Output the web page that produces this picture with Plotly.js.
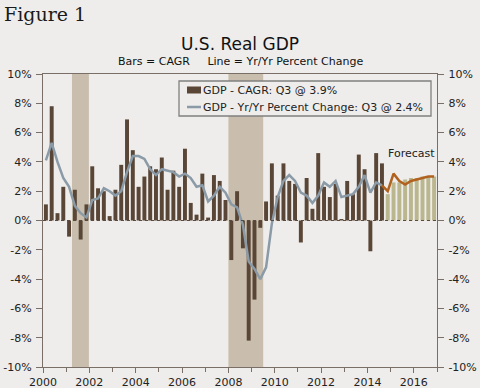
<!DOCTYPE html>
<html><head><meta charset="utf-8">
<script src="https://cdn.plot.ly/plotly-3.0.1.min.js"></script>
<style>html,body{margin:0;padding:0;background:#eeedeb;} #chart{width:480px;height:388px;}</style>
</head><body><div id="chart"></div>
<script>
const startYear = 2000;
// Quarterly real GDP, CAGR (SAAR), 2000Q1 - 2014Q3
const cagrActual = [
  1.1, 7.8, 0.5, 2.3,
  -1.1, 2.1, -1.3, 1.1,
  3.7, 2.2, 2.0, 0.3,
  2.1, 3.8, 6.9, 4.8,
  2.3, 3.0, 3.7, 3.5,
  4.3, 2.1, 3.4, 2.3,
  4.9, 1.2, 0.4, 3.2,
  0.2, 3.1, 2.7, 1.4,
  -2.7, 2.0, -1.9, -8.2,
  -5.4, -0.5, 1.3, 3.9,
  1.7, 3.9, 2.7, 2.5,
  -1.5, 2.9, 0.8, 4.6,
  2.3, 1.6, 2.5, 0.1,
  2.7, 1.8, 4.5, 3.5,
  -2.1, 4.6, 3.9
];
// Forecast CAGR, 2014Q4 - 2016Q4
const cagrForecast = [1.8, 2.6, 2.6, 2.8, 2.9, 2.9, 3.0, 3.0, 3.0];
// Yr/Yr percent change, 2000Q1 - 2014Q3
const yoyActual = [
  4.1, 5.3, 4.0, 2.9,
  2.3, 1.0, 0.5, 0.2,
  1.4, 1.5, 2.2, 2.0,
  1.7, 2.0, 3.3, 4.4,
  4.4, 4.2, 3.5, 3.1,
  3.5, 3.4, 3.3, 3.0,
  3.2, 2.9, 2.3, 2.4,
  1.3, 1.7, 2.3, 1.9,
  1.1, 0.9, -0.3, -2.8,
  -3.3, -4.0, -3.2, -0.2,
  1.6, 2.7, 3.1, 2.7,
  1.9, 1.7, 1.2, 1.7,
  2.6, 2.3, 2.7, 1.6,
  1.7, 1.8, 2.3, 3.1,
  1.9, 2.6, 2.4
];
// Forecast Yr/Yr, 2014Q3 (join) - 2016Q4
const yoyForecast = [2.4, 2.0, 3.2, 2.7, 2.45, 2.7, 2.8, 2.9, 3.0, 3.0];
const recessions = [[2001.25, 2001.98], [2008.0, 2009.5]];
const yTickVals = [-10, -8, -6, -4, -2, 0, 2, 4, 6, 8, 10];
const yTickText = ['-10%', '-8%', '-6%', '-4%', '-2%', '0%', '2%', '4%', '6%', '8%', '10%'];
const xTickVals = [2000, 2002, 2004, 2006, 2008, 2010, 2012, 2014, 2016];
const xTickText = ['2000', '2002', '2004', '2006', '2008', '2010', '2012', '2014', '2016'];
const xMinorVals = [2001, 2003, 2005, 2007, 2009, 2011, 2013, 2015, 2017];
const legendLabels = ['GDP - CAGR: Q3 @ 3.9%', 'GDP - Yr/Yr Percent Change: Q3 @ 2.4%'];

const BG = '#eeedeb';
const BROWN = '#5a4636';
const KHAKI = '#bab68e';
const GRAYLINE = '#8a9aa7';
const ORANGE = '#b0621e';
const SHADE = '#c9bead';
const AXIS = '#7a6f66';

function qx(i) { return startYear + (i + 0.5) / 4; }
const xActual = cagrActual.map((_, i) => qx(i));
const xForecast = cagrForecast.map((_, i) => qx(cagrActual.length + i));
const xYoyF = yoyForecast.map((_, i) => qx(cagrActual.length - 1 + i));

const traces = [
  {type: 'bar', x: xActual, y: cagrActual, width: 0.17, marker: {color: BROWN}, showlegend: false, hoverinfo: 'skip'},
  {type: 'bar', x: xForecast, y: cagrForecast, width: 0.17, marker: {color: KHAKI}, showlegend: false, hoverinfo: 'skip'},
  {type: 'scatter', mode: 'lines', x: xActual, y: yoyActual, line: {color: GRAYLINE, width: 2.5}, showlegend: false},
  {type: 'scatter', mode: 'lines', x: xYoyF, y: yoyForecast, line: {color: ORANGE, width: 2.5}, showlegend: false},
  {type: 'scatter', mode: 'lines', x: [], y: [], yaxis: 'y2', showlegend: false}
];

const px = (v) => (v - 43) / 394;   // page px -> paper x
const py = (v) => (367 - v) / 293;  // page px -> paper y

const shapes = recessions.map(r => ({type: 'rect', xref: 'x', yref: 'paper', x0: r[0], x1: r[1], y0: 0, y1: 1,
  fillcolor: SHADE, line: {width: 0}, layer: 'below'}));
shapes.push({type: 'line', xref: 'paper', yref: 'y', x0: 0, x1: 1, y0: 0, y1: 0, line: {color: '#5a4a3e', width: 1.2, dash: 'dot'}, layer: 'above'});
// legend box
shapes.push({type: 'rect', xref: 'paper', yref: 'paper', x0: px(179), x1: px(431), y0: py(116), y1: py(81),
  fillcolor: BG, line: {color: '#808080', width: 1.3}, layer: 'above'});
shapes.push({type: 'rect', xref: 'paper', yref: 'paper', x0: px(187), x1: px(201), y0: py(93.5), y1: py(86.5),
  fillcolor: BROWN, line: {width: 0}, layer: 'above'});
shapes.push({type: 'line', xref: 'paper', yref: 'paper', x0: px(187), x1: px(201), y0: py(107), y1: py(107),
  line: {color: GRAYLINE, width: 2.5}, layer: 'above'});

const annotations = [
  {text: 'Figure 1', xref: 'paper', yref: 'paper', x: px(2), y: py(14), xanchor: 'left', yanchor: 'middle', showarrow: false,
    font: {family: 'DejaVu Serif', size: 19, color: '#1a1a1a'}},
  {text: 'U.S. Real GDP', xref: 'paper', yref: 'paper', x: 0.5, y: py(44), xanchor: 'center', yanchor: 'middle', showarrow: false,
    font: {family: 'DejaVu Sans', size: 17, color: '#111'}},
  {text: 'Bars = CAGR\u00a0\u00a0\u00a0\u00a0\u00a0Line = Yr/Yr Percent Change', xref: 'paper', yref: 'paper', x: px(241), y: py(61),
    xanchor: 'center', yanchor: 'middle', showarrow: false, font: {family: 'DejaVu Sans', size: 11, color: '#111'}},
  {text: 'Forecast', xref: 'x', yref: 'y', x: 2015.88, y: 4.6, xanchor: 'center', yanchor: 'middle', showarrow: false,
    font: {family: 'DejaVu Sans', size: 11, color: '#222'}},
  {text: legendLabels[0], xref: 'paper', yref: 'paper', x: px(201), y: py(90.5), xanchor: 'left', yanchor: 'middle', showarrow: false,
    font: {family: 'DejaVu Sans', size: 11, color: '#222'}},
  {text: legendLabels[1], xref: 'paper', yref: 'paper', x: px(201), y: py(107), xanchor: 'left', yanchor: 'middle', showarrow: false,
    font: {family: 'DejaVu Sans', size: 11, color: '#222'}}
];

const yCommon = {range: [-10, 10], tickmode: 'array', tickvals: yTickVals, ticktext: yTickText, showgrid: false, zeroline: false,
  showline: true, linecolor: AXIS, linewidth: 1.2, ticks: 'outside', ticklen: 6, tickcolor: AXIS, ticklabelstandoff: 2,
  tickfont: {family: 'DejaVu Sans', size: 11, color: '#222'}, fixedrange: true};

const layout = {
  width: 480, height: 388,
  margin: {l: 43, r: 43, t: 74, b: 21},
  paper_bgcolor: BG, plot_bgcolor: BG,
  barmode: 'overlay',
  showlegend: false,
  font: {family: 'DejaVu Sans', size: 11, color: '#222'},
  xaxis: {range: [2000, 2017], tickmode: 'array', tickvals: xTickVals, ticktext: xTickText, showgrid: false, zeroline: false,
    showline: true, mirror: true, linecolor: AXIS, linewidth: 1.2, ticks: 'outside', ticklen: 5, tickcolor: AXIS,
    minor: {tickmode: 'array', tickvals: xMinorVals, ticks: 'outside', ticklen: 4, tickcolor: AXIS, showgrid: false},
    tickfont: {family: 'DejaVu Sans', size: 11, color: '#222'}, fixedrange: true},
  yaxis: Object.assign({}, yCommon, {side: 'left'}),
  yaxis2: Object.assign({}, yCommon, {side: 'right', overlaying: 'y'}),
  shapes: shapes,
  annotations: annotations
};

Plotly.newPlot('chart', traces, layout, {displayModeBar: false, staticPlot: true});
</script>
</body></html>
